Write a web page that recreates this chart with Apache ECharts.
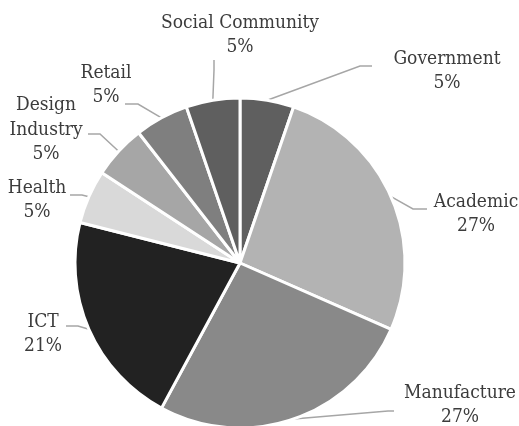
<!DOCTYPE html>
<html>
<head>
<meta charset="utf-8">
<script src="https://cdn.jsdelivr.net/npm/echarts@6/dist/echarts.min.js"></script>
<style>html,body{margin:0;padding:0;background:#fff;}#c{width:519px;height:426px;}</style>
</head>
<body>
<div id="c"></div>
<script>
// Data
const categories = ['Government', 'Academic', 'Manufacture', 'ICT', 'Health', 'Design\nIndustry', 'Retail', 'Social Community'];
const values = [1, 5, 5, 4, 1, 1, 1, 1];
const percentLabels = ['5%', '27%', '27%', '21%', '5%', '5%', '5%', '5%'];

// Styles / layout (not data)
const colors = ['#5f5f5f', '#b3b3b3', '#898989', '#222222', '#d9d9d9', '#a6a6a6', '#7f7f7f', '#5f5f5f'];
const labelCenters = [[447, 71], [476, 214], [460, 405], [43, 334], [37, 200], [46, 130], [106, 85], [240, 35]];
const lineBends = [
  [[360, 66], [372, 66]],
  [[413, 209], [427, 209]],
  [[388, 411], [394, 411]],
  [[78, 326], [66, 326]],
  [[82, 195], [70, 195]],
  [[100, 134], [88, 134]],
  [[138, 104], [125, 104]],
  [[214, 70], [214, 60]]
];
const FONT = '"DejaVu Serif Condensed", "DejaVu Serif"';

const chart = echarts.init(document.getElementById('c'), null, {renderer: 'canvas'});
chart.setOption({
  animation: false,
  backgroundColor: '#ffffff',
  textStyle: {fontFamily: FONT},
  series: [{
    type: 'pie',
    center: [240, 263],
    radius: [0, 165],
    startAngle: 90,
    clockwise: true,
    avoidLabelOverlap: false,
    data: categories.map((n, i) => ({name: n, value: values[i], itemStyle: {color: colors[i]}})),
    itemStyle: {borderColor: '#ffffff', borderWidth: 3},
    label: {
      show: true,
      position: 'outside',
      fontFamily: FONT,
      fontSize: 19,
      lineHeight: 24.5,
      color: '#3c3c3c',
      align: 'center',
      formatter: p => p.name + '\n' + percentLabels[p.dataIndex]
    },
    labelLine: {show: true, length: 10, length2: 10, lineStyle: {color: '#a6a6a6', width: 1.5}},
    labelLayout: function (params) {
      const i = params.dataIndex;
      const start = params.labelLinePoints ? params.labelLinePoints[0] : null;
      const res = {
        x: labelCenters[i][0],
        y: labelCenters[i][1],
        align: 'center',
        verticalAlign: 'middle'
      };
      if (start) {
        res.labelLinePoints = [start, lineBends[i][0], lineBends[i][1]];
      }
      return res;
    }
  }]
});
</script>
</body>
</html>
